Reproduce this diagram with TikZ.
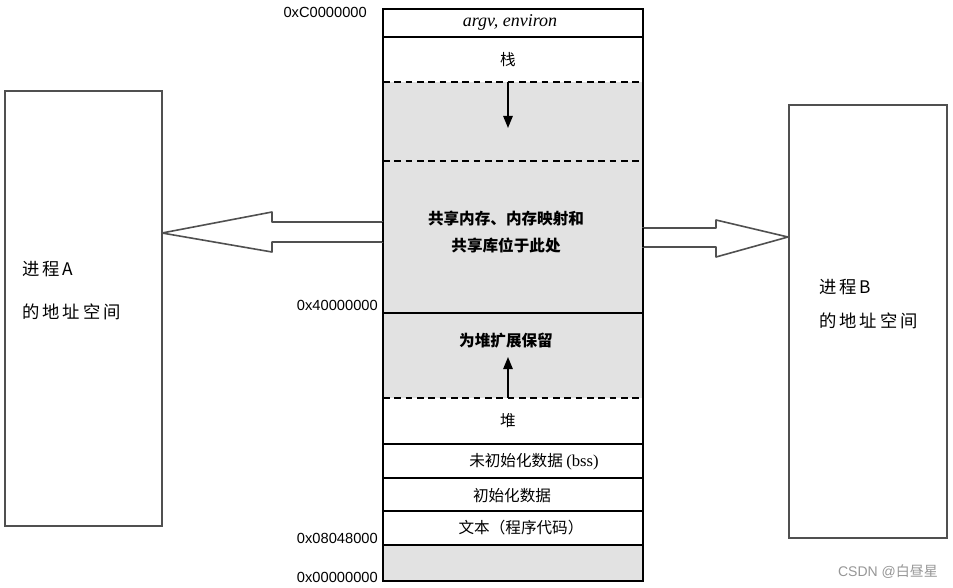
\documentclass[tikz,border=0pt]{standalone}
\usepackage{fontspec}
\setmainfont{Liberation Serif}
\newfontfamily\cjk{Noto Sans CJK SC}
\newfontfamily\cjkwide[LetterSpace=17]{Noto Sans CJK SC}
\newfontfamily\addr{Liberation Sans}
\usetikzlibrary{arrows.meta}
\definecolor{memgrey}{RGB}{226,226,226}
\definecolor{boxline}{RGB}{80,80,80}
\definecolor{wm}{RGB}{150,150,150}
\begin{document}
\begin{tikzpicture}[x=0.75pt,y=-0.75pt,
  seg/.style={draw=black,line width=1.1pt},
  dline/.style={draw=black,line width=1.1pt,dash pattern=on 5pt off 3.5pt},
  celltext/.style={font=\cjk\fontsize{11.7}{14}\selectfont,inner sep=0pt},
  boldtext/.style={font=\cjk\bfseries\fontsize{11.7}{14}\selectfont,inner sep=0pt},
  addrtext/.style={font=\addr\fontsize{11}{13}\selectfont,inner sep=0pt,anchor=east},
  proctext/.style={font=\cjkwide\fontsize{13}{15}\selectfont,inner sep=0pt,anchor=west},
  procbox/.style={draw=boxline,line width=1.4pt,fill=white},
  blockarrow/.style={draw=boxline,line width=1.2pt,fill=white,line join=round},
  growarrow/.style={draw=black,line width=1.3pt,-{Triangle[length=9pt,width=7pt]}}
]
\useasboundingbox (0,0) rectangle (953,588);
% column geometry
\coordinate (cTL) at (383,9);
\coordinate (cBR) at (643,581);
% grey regions
\fill[memgrey] (383,82) rectangle (643,398);
\fill[memgrey] (383,545) rectangle (643,581);
% column outline and solid separators
\draw[seg] (cTL) rectangle (cBR);
\draw[seg] (383,37) -- (643,37);
\draw[seg] (383,313) -- (643,313);
\draw[seg] (383,444) -- (643,444);
\draw[seg] (383,478) -- (643,478);
\draw[seg] (383,511) -- (643,511);
\draw[seg] (383,545) -- (643,545);
% dashed separators
\draw[dline] (383,82) -- (643,82);
\draw[dline] (383,161) -- (643,161);
\draw[dline] (383,398) -- (643,398);
% growth arrows
\coordinate (stackTop) at (508,82);
\coordinate (stackTip) at (508,128);
\coordinate (heapTop) at (508,398);
\coordinate (heapTip) at (508,357);
\draw[growarrow] (stackTop) -- (stackTip);
\draw[growarrow] (heapTop) -- (heapTip);
% cell texts
\node[inner sep=0pt,font=\itshape\fontsize{13.5}{15}\selectfont] (argv) at (510,22) {argv, environ};
\node[celltext] (stack) at (508,60) {栈};
\node[boldtext,align=center] (shared) at (506,232) {共享内存、内存映射和\\[6pt]共享库位于此处};
\node[boldtext] (reserve) at (506,341) {为堆扩展保留};
\node[celltext] (heap) at (508,421) {堆};
\node[celltext] (bss) at (534,462) {未初始化数据 {\fontspec{Liberation Serif}\fontsize{12.5}{14}\selectfont(bss)}};
\node[celltext] (data) at (512,496) {初始化数据};
\node[celltext] (text) at (521,528) {文本（程序代码）};
% address labels
\node[addrtext] (aC) at (367,12) {0xC0000000};
\node[addrtext] (a4) at (378,305) {0x40000000};
\node[addrtext] (a08) at (378,538) {0x08048000};
\node[addrtext] (a0) at (378,577) {0x00000000};
% process boxes
\draw[procbox] (5,91) rectangle (162,526);
\draw[procbox] (789,105) rectangle (947,538);
\node[proctext] (pA1) at (22,269) {进程A};
\node[proctext] (pA2) at (22,312) {的地址空间};
\node[proctext] (pB1) at (819,287) {进程B};
\node[proctext] (pB2) at (819,321) {的地址空间};
% block arrows
\coordinate (tipA) at (162,233);
\coordinate (tipB) at (788,237);
\draw[blockarrow] (383,222) -- (272,222) -- (272,212) -- (tipA) -- (272,252) -- (272,242) -- (383,242);
\draw[blockarrow] (642,228) -- (716,228) -- (716,220) -- (tipB) -- (716,257) -- (716,247) -- (642,247);
\draw[line width=1.6pt] (383,222) -- (383,242);
\draw[line width=1.6pt] (643,228) -- (643,247);
% watermark
\node[inner sep=0pt,text=wm,font=\addr\fontsize{10.5}{12}\selectfont] (wm) at (888,572) {CSDN @{\cjk 白昼星}};
\end{tikzpicture}
\end{document}
